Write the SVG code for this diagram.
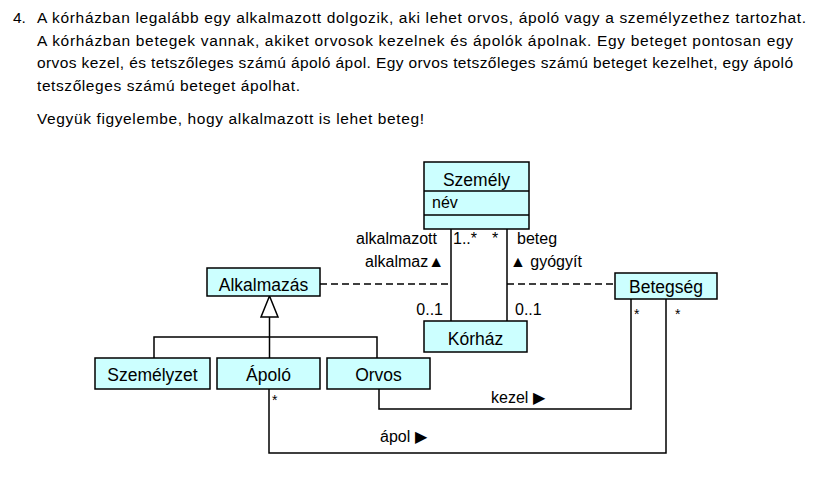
<svg xmlns="http://www.w3.org/2000/svg" width="813" height="495" viewBox="0 0 813 495">
<style>
text{font-family:"Liberation Sans",Arial,sans-serif;fill:#000}
.body{font-size:15.5px}
.title{font-size:17.5px;text-anchor:middle}
.lbl{font-size:16px}
.box{fill:#ccffff;stroke:#000;stroke-width:1.5}
.ln{fill:none;stroke:#000;stroke-width:1.5}
.dash{fill:none;stroke:#000;stroke-width:1.5;stroke-dasharray:7 4}
</style>
<rect width="813" height="495" fill="#fff"/>
<g id="task">
<text class="body" x="13" y="23">4.</text>
<text class="body" x="37" y="23" textLength="769" lengthAdjust="spacing">A kórházban legalább egy alkalmazott dolgozik, aki lehet orvos, ápoló vagy a személyzethez tartozhat.</text>
<text class="body" x="37" y="46" textLength="756" lengthAdjust="spacing">A kórházban betegek vannak, akiket orvosok kezelnek és ápolók ápolnak. Egy beteget pontosan egy</text>
<text class="body" x="37" y="68" textLength="756" lengthAdjust="spacing">orvos kezel, és tetszőleges számú ápoló ápol. Egy orvos tetszőleges számú beteget kezelhet, egy ápoló</text>
<text class="body" x="37" y="91" textLength="263" lengthAdjust="spacing">tetszőleges számú beteget ápolhat.</text>
<text class="body" x="37" y="124" textLength="387" lengthAdjust="spacing">Vegyük figyelembe, hogy alkalmazott is lehet beteg!</text>
</g>
<g id="connectors">
<line class="ln" x1="451" y1="229" x2="451" y2="321"/>
<line class="ln" x1="507" y1="229" x2="507" y2="321"/>
<line class="dash" x1="320" y1="284" x2="451" y2="284"/>
<line class="dash" x1="507" y1="284" x2="615" y2="284"/>
<path class="ln" d="M269.5,317 V337 M154,358 V337 H377 V358 M269.5,337 V358"/>
<polygon points="269.5,296 261,317 278,317" fill="#fff" stroke="#000" stroke-width="1.5"/>
<path class="ln" d="M379,389 V409 H631 V299"/>
<path class="ln" d="M269,389 V453 H666 V299"/>
<text class="lbl" x="437" y="244" text-anchor="end">alkalmazott</text>
<text class="lbl" x="453" y="244">1..*</text>
<text class="lbl" x="492" y="244">*</text>
<text class="lbl" x="517" y="244">beteg</text>
<text class="lbl" x="444" y="267" text-anchor="end">alkalmaz▲</text>
<text class="lbl" x="510" y="267">▲ gyógyít</text>
<text class="lbl" x="443" y="315" text-anchor="end">0..1</text>
<text class="lbl" x="515" y="315">0..1</text>
<text class="lbl" x="634" y="319" style="font-size:14px">*</text>
<text class="lbl" x="675" y="319" style="font-size:14px">*</text>
<text class="lbl" x="272" y="405" style="font-size:14px">*</text>
<text class="lbl" x="491" y="403">kezel ▶</text>
<text class="lbl" x="380" y="442">ápol ▶</text>
</g>
<g id="szemely">
<rect class="box" x="424" y="162" width="105" height="67"/>
<line class="ln" x1="424" y1="191" x2="529" y2="191"/>
<line class="ln" x1="424" y1="215" x2="529" y2="215"/>
<text class="title" x="476.5" y="186">Személy</text>
<text class="lbl" x="432" y="208">név</text>
</g>
<g id="korhaz">
<rect class="box" x="424" y="321" width="103" height="31"/>
<text class="title" x="475.5" y="345">Kórház</text>
</g>
<g id="alkalmazas">
<rect class="box" x="207" y="268" width="113" height="28"/>
<text class="title" x="263.5" y="291">Alkalmazás</text>
</g>
<g id="betegseg">
<rect class="box" x="615" y="273" width="102" height="26"/>
<text class="title" x="666" y="293">Betegség</text>
</g>
<g id="szemelyzet">
<rect class="box" x="95" y="358" width="115" height="31"/>
<text class="title" x="152.5" y="381">Személyzet</text>
</g>
<g id="apolo">
<rect class="box" x="217" y="358" width="103" height="31"/>
<text class="title" x="268.5" y="381">Ápoló</text>
</g>
<g id="orvos">
<rect class="box" x="327" y="358" width="103" height="31"/>
<text class="title" x="378.5" y="381">Orvos</text>
</g>
</svg>
